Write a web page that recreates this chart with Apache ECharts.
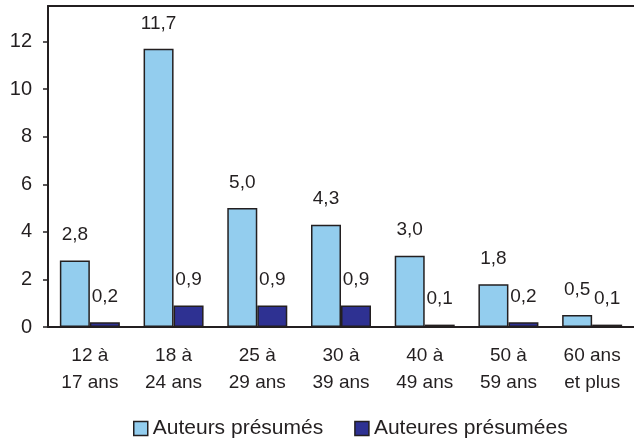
<!DOCTYPE html>
<html>
<head>
<meta charset="utf-8">
<script src="https://cdn.jsdelivr.net/npm/echarts@6/dist/echarts.min.js"></script>
<style>
  html, body { margin: 0; padding: 0; background: #fff; }
  #chart { width: 634px; height: 440px; }
</style>
</head>
<body>
<div id="chart"></div>
<script>
const categories = ['12 à\n17 ans', '18 à\n24 ans', '25 à\n29 ans', '30 à\n39 ans', '40 à\n49 ans', '50 à\n59 ans', '60 ans\net plus']
const auteurs = [2.8, 11.7, 5.0, 4.3, 3.0, 1.8, 0.5]
const auteures = [0.2, 0.9, 0.9, 0.9, 0.1, 0.2, 0.1]
const yTicks = [0, 2, 4, 6, 8, 10, 12]

const ink = '#231f20'
const font = '"Liberation Sans", Arial, sans-serif'
const fmt = v => v.toFixed(1).replace('.', ',')

const chart = echarts.init(document.getElementById('chart'))

const barLabel = {
  show: true, position: 'top', distance: 16,
  fontFamily: font, fontSize: 19, color: ink,
  formatter: p => fmt(p.value)
}

chart.setOption({
  animation: false,
  grid: { left: 48, right: 0, top: 6, bottom: 113 },
  legend: {
    top: 413, left: 128, itemGap: 31, itemWidth: 14, itemHeight: 14,
    textStyle: { fontFamily: font, fontSize: 21, color: ink },
    data: [
      { name: 'Auteurs présumés', icon: 'rect', itemStyle: { borderColor: ink, borderWidth: 1.5 } },
      { name: 'Auteures présumées', icon: 'rect', itemStyle: { borderColor: ink, borderWidth: 1.5 } }
    ]
  },
  xAxis: [{
    type: 'category', data: categories,
    axisLine: { lineStyle: { color: ink, width: 2 } },
    axisTick: { show: false },
    axisLabel: { fontFamily: font, fontSize: 19, color: ink, lineHeight: 27, margin: 15, interval: 0 }
  }, {
    type: 'category', data: categories, position: 'top',
    axisLine: { show: true, lineStyle: { color: ink, width: 2 } },
    axisTick: { show: false }, axisLabel: { show: false }
  }],
  yAxis: {
    type: 'value', min: 0, max: 13.5, interval: 2,
    axisLine: { show: true, lineStyle: { color: ink, width: 2 } },
    axisTick: { show: true, length: 5, lineStyle: { color: ink, width: 1.5 } },
    splitLine: { show: false },
    axisLabel: {
      fontFamily: font, fontSize: 20, color: ink, margin: 16,
      showMaxLabel: false,
      formatter: v => yTicks.includes(v) ? String(v) : ''
    }
  },
  series: [{
    name: 'Auteurs présumés', type: 'bar', data: auteurs,
    barWidth: 30, barGap: '0%',
    itemStyle: { color: '#93cdee', borderColor: ink, borderWidth: 1.5 },
    label: barLabel
  }, {
    name: 'Auteures présumées', type: 'bar', data: auteures,
    barWidth: 30,
    itemStyle: { color: '#2e3192', borderColor: ink, borderWidth: 1.5 },
    label: barLabel
  }]
})
</script>
</body>
</html>
